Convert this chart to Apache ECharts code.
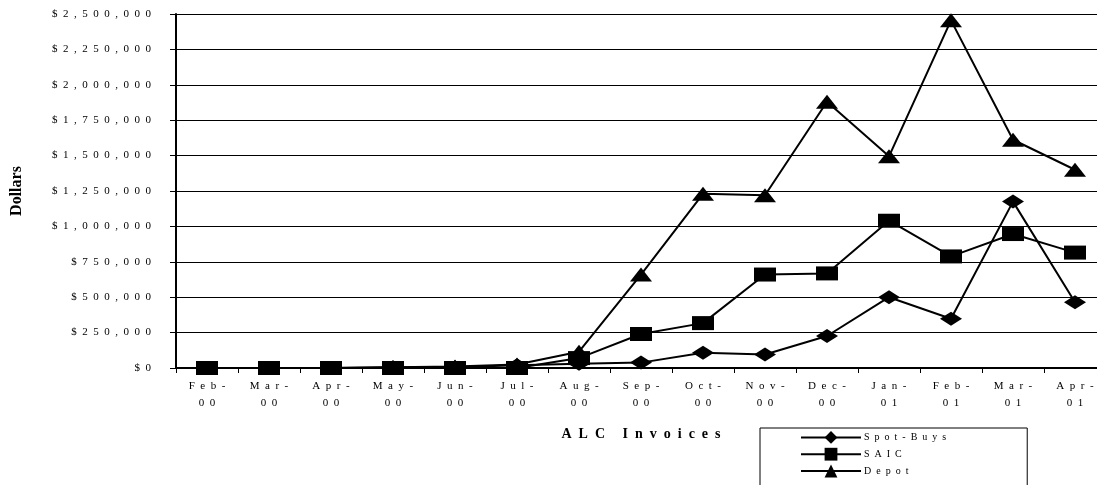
<!DOCTYPE html>
<html>
<head>
<meta charset="utf-8">
<script src="https://cdn.jsdelivr.net/npm/echarts@6/dist/echarts.min.js"></script>
<style>
  html, body { margin: 0; padding: 0; background: #fff; }
  #chart { width: 1097px; height: 485px; }
</style>
</head>
<body>
<div id="chart"></div>
<script>
// ALC invoices by month, in dollars
const months = ['Feb-00', 'Mar-00', 'Apr-00', 'May-00', 'Jun-00', 'Jul-00', 'Aug-00',
                'Sep-00', 'Oct-00', 'Nov-00', 'Dec-00', 'Jan-01', 'Feb-01', 'Mar-01', 'Apr-01'];
const spotBuys = [0, 0, 0, 5000, 5000, 20000, 30000, 38000, 107000, 95000, 226000, 500000, 348000, 1175000, 464000];
const saic     = [0, 0, 0, 0, 0, 0, 70000, 240000, 317000, 660000, 668000, 1040000, 788000, 946000, 815000];
const depot    = [0, 0, 0, 5000, 10000, 25000, 115000, 660000, 1230000, 1220000, 1880000, 1495000, 2455000, 1612000, 1400000];
const yMax = 2500000;
const yStep = 250000;

// wide letter spacing, as in the printed chart
const spaced = s => s.split('').join('\u2002');
const money = v => '$' + v.toLocaleString('en-US');

const serif = 'Liberation Serif';
const chart = echarts.init(document.getElementById('chart'));

const lineSeries = (name, data, symbol) => ({
  name: name,
  type: 'line',
  data: data,
  symbol: symbol,
  symbolSize: [22, 14],
  showSymbol: true,
  lineStyle: { color: '#000', width: 2 },
  itemStyle: { color: '#000' },
  animation: false
});

chart.setOption({
  animation: false,
  textStyle: { fontFamily: serif, color: '#000' },
  grid: { left: 176, top: 14, width: 930, height: 354, outerBoundsMode: 'none' },
  xAxis: {
    type: 'category',
    data: months,
    boundaryGap: true,
    name: spaced('ALC Invoices'),
    nameLocation: 'middle',
    nameGap: 59,
    nameTextStyle: { fontFamily: serif, fontWeight: 'bold', fontSize: 14, color: '#000' },
    axisLine: { lineStyle: { color: '#000', width: 2 } },
    axisTick: { show: true, length: 5, lineStyle: { color: '#000' } },
    axisLabel: {
      interval: 0,
      margin: 10,
      fontFamily: serif,
      fontSize: 11,
      lineHeight: 17,
      color: '#000',
      formatter: v => { const p = v.split('-'); return spaced(p[0] + '-') + '\n' + spaced(p[1]); }
    }
  },
  yAxis: {
    type: 'value',
    min: 0,
    max: yMax,
    interval: yStep,
    name: 'Dollars',
    nameLocation: 'middle',
    nameRotate: 90,
    nameGap: 151,
    nameTextStyle: { fontFamily: serif, fontWeight: 'bold', fontSize: 16, color: '#000' },
    axisLine: { show: true, lineStyle: { color: '#000', width: 2 } },
    axisTick: { show: true, inside: false, length: 6, lineStyle: { color: '#000' } },
    splitLine: { show: true, lineStyle: { color: '#000', width: 1 } },
    axisLabel: {
      margin: 25,
      fontFamily: serif,
      fontSize: 11,
      color: '#000',
      formatter: v => spaced(money(v))
    }
  },
  legend: {
    orient: 'vertical',
    left: 760,
    top: 428,
    height: 70,
    padding: [3, 81, 20, 40],
    borderColor: '#000',
    borderWidth: 1,
    itemWidth: 60,
    itemHeight: 16,
    itemGap: 4,
    align: 'left',
    textStyle: { fontFamily: serif, fontSize: 10, color: '#000', padding: [0, 0, 0, -2] },
    formatter: n => spaced(n),
    data: ['Spot-Buys', 'SAIC', 'Depot']
  },
  series: [
    lineSeries('Spot-Buys', spotBuys, 'diamond'),
    lineSeries('SAIC', saic, 'rect'),
    lineSeries('Depot', depot, 'triangle')
  ]
});
</script>
</body>
</html>
